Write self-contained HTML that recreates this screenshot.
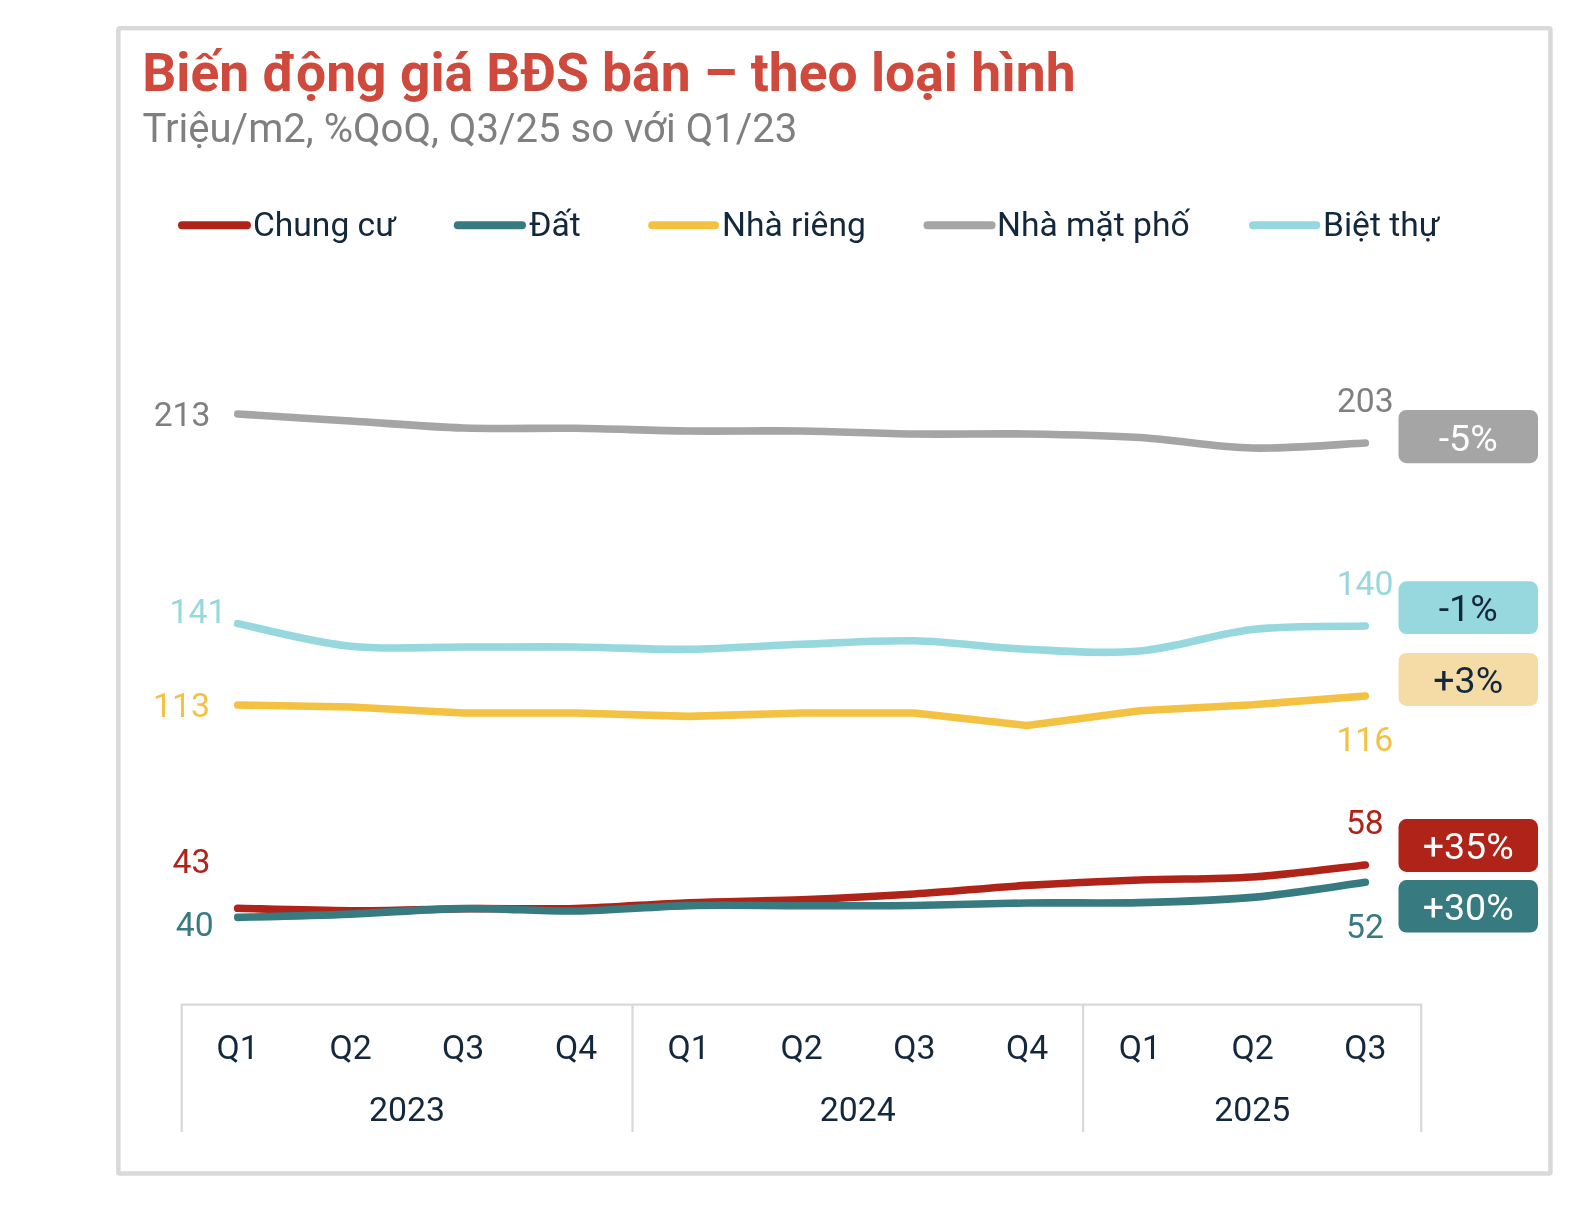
<!DOCTYPE html>
<html><head><meta charset="utf-8">
<style>
html,body{margin:0;padding:0;background:#fff;}
body{width:1596px;height:1214px;overflow:hidden;}
svg{display:block;will-change:transform;}
text{font-family:Roboto,"Liberation Sans",Arial,sans-serif;}
</style></head>
<body>
<svg width="1596" height="1214" viewBox="0 0 1596 1214">
<rect x="0" y="0" width="1596" height="1214" fill="#ffffff"/>
<rect x="116.1" y="25.9" width="1436.6" height="1149.8" rx="3.5" fill="#D9D9D9"/>
<rect x="120.6" y="30.4" width="1427.6" height="1140.8" fill="#ffffff"/>
<text x="142.2" y="90.8" font-size="53.4" font-weight="700" fill="#CF4A3C" textLength="933.36" lengthAdjust="spacingAndGlyphs">Biến động giá BĐS bán – theo loại hình</text>
<text x="142.5" y="141.7" font-size="40.1" fill="#7F7F7F" textLength="654.89" lengthAdjust="spacingAndGlyphs">Triệu/m2, %QoQ, Q3/25 so với Q1/23</text>
<g stroke-width="8" stroke-linecap="round">
<line x1="182" y1="225.2" x2="247" y2="225.2" stroke="#B02318"/>
<line x1="457.8" y1="225.2" x2="522" y2="225.2" stroke="#377A7F"/>
<line x1="652.2" y1="225.2" x2="715" y2="225.2" stroke="#F4C242"/>
<line x1="927.5" y1="225.2" x2="991.6" y2="225.2" stroke="#A5A5A5"/>
<line x1="1253" y1="225.2" x2="1316.3" y2="225.2" stroke="#96D8DE"/>
</g>
<g font-size="33.6" fill="#14283D">
<text x="253" y="236" textLength="142.94" lengthAdjust="spacingAndGlyphs">Chung cư</text>
<text x="529" y="236" textLength="51.78" lengthAdjust="spacingAndGlyphs">Đất</text>
<text x="722" y="236" textLength="143.80" lengthAdjust="spacingAndGlyphs">Nhà riêng</text>
<text x="997" y="236" textLength="192.58" lengthAdjust="spacingAndGlyphs">Nhà mặt phố</text>
<text x="1323" y="236" textLength="116.47" lengthAdjust="spacingAndGlyphs">Biệt thự</text>
</g>
<g fill="none" stroke-width="7.6" stroke-linecap="round" stroke-linejoin="round">
<path d="M237.7,908.3 C256.5,908.7 312.9,910.7 350.5,910.8 C388.0,910.9 425.6,909.1 463.2,908.7 C500.8,908.3 538.4,909.5 576.0,908.5 C613.6,907.5 651.2,904.2 688.7,902.7 C726.3,901.2 763.9,901.2 801.5,899.7 C839.1,898.2 876.7,896.4 914.3,894.0 C951.8,891.6 989.4,887.7 1027.0,885.4 C1064.6,883.1 1102.2,881.4 1139.8,880.0 C1177.4,878.6 1215.0,879.5 1252.5,877.0 C1290.1,874.5 1346.5,867.0 1365.3,865.0" stroke="#B02318"/>
<path d="M237.7,917.4 C256.5,916.9 312.9,915.6 350.5,914.1 C388.0,912.6 425.6,909.1 463.2,908.6 C500.8,908.1 538.4,911.5 576.0,911.0 C613.6,910.5 651.2,906.5 688.7,905.6 C726.3,904.7 763.9,905.7 801.5,905.7 C839.1,905.7 876.7,906.0 914.3,905.5 C951.8,905.0 989.4,903.5 1027.0,903.0 C1064.6,902.5 1102.2,903.5 1139.8,902.6 C1177.4,901.7 1215.0,900.8 1252.5,897.4 C1290.1,894.0 1346.5,884.8 1365.3,882.3" stroke="#377A7F"/>
<path d="M237.7,705.0 L350.5,707.0 L463.2,713.0 L576.0,713.0 L688.7,716.4 L801.5,713.0 L914.3,713.0 L1027.0,725.5 L1139.8,710.7 L1252.5,704.7 L1365.3,696.0" stroke="#F4C242"/>
<path d="M237.7,414.0 C256.5,415.2 312.9,418.7 350.5,421.0 C388.0,423.3 425.6,426.8 463.2,428.0 C500.8,429.2 538.4,427.8 576.0,428.3 C613.6,428.8 651.2,430.6 688.7,431.0 C726.3,431.4 763.9,430.5 801.5,431.0 C839.1,431.5 876.7,433.5 914.3,434.0 C951.8,434.5 989.4,433.4 1027.0,434.0 C1064.6,434.6 1102.2,435.2 1139.8,437.5 C1177.4,439.8 1215.0,447.1 1252.5,448.0 C1290.1,448.9 1346.5,443.8 1365.3,443.0" stroke="#A5A5A5"/>
<path d="M237.7,623.6 C256.5,627.4 312.9,642.4 350.5,646.3 C388.0,650.2 425.6,646.9 463.2,647.0 C500.8,647.1 538.4,646.6 576.0,647.0 C613.6,647.4 651.2,649.8 688.7,649.3 C726.3,648.8 763.9,645.7 801.5,644.3 C839.1,642.9 876.7,640.0 914.3,640.8 C951.8,641.6 989.4,647.6 1027.0,649.3 C1064.6,651.0 1102.2,654.3 1139.8,651.0 C1177.4,647.7 1215.0,633.7 1252.5,629.5 C1290.1,625.3 1346.5,626.6 1365.3,626.0" stroke="#96D8DE"/>
</g>
<g font-size="33.7">
<text x="210.5" y="426" text-anchor="end" fill="#7F7F7F" textLength="56.81" lengthAdjust="spacingAndGlyphs">213</text>
<text x="226.4" y="623.1" text-anchor="end" fill="#96D8DE" textLength="56.81" lengthAdjust="spacingAndGlyphs">141</text>
<text x="209.9" y="717.2" text-anchor="end" fill="#F4C242" textLength="56.81" lengthAdjust="spacingAndGlyphs">113</text>
<text x="210.4" y="872.9" text-anchor="end" fill="#B02318" textLength="37.88" lengthAdjust="spacingAndGlyphs">43</text>
<text x="213.6" y="936" text-anchor="end" fill="#377A7F" textLength="37.88" lengthAdjust="spacingAndGlyphs">40</text>
<text x="1393.7" y="411.8" text-anchor="end" fill="#7F7F7F" textLength="56.81" lengthAdjust="spacingAndGlyphs">203</text>
<text x="1393.5" y="595.1" text-anchor="end" fill="#96D8DE" textLength="56.81" lengthAdjust="spacingAndGlyphs">140</text>
<text x="1393.2" y="751.3" text-anchor="end" fill="#F4C242" textLength="56.81" lengthAdjust="spacingAndGlyphs">116</text>
<text x="1383.8" y="834.3" text-anchor="end" fill="#B02318" textLength="37.88" lengthAdjust="spacingAndGlyphs">58</text>
<text x="1384" y="938" text-anchor="end" fill="#377A7F" textLength="37.88" lengthAdjust="spacingAndGlyphs">52</text>
</g>
<g>
<rect x="1398.5" y="410" width="139.5" height="53.2" rx="8" fill="#A5A5A5"/>
<rect x="1398.5" y="581.3" width="139.5" height="52.7" rx="8" fill="#96D8DE"/>
<rect x="1398.5" y="653" width="139.5" height="52.9" rx="8" fill="#F5DBA6"/>
<rect x="1398.5" y="819.1" width="139.5" height="52.8" rx="8" fill="#B02318"/>
<rect x="1398.5" y="880.1" width="139.5" height="52.5" rx="8" fill="#377A7F"/>
</g>
<g font-size="37.5" text-anchor="middle">
<text x="1468.2" y="450.6" fill="#FFFFFF" textLength="58.91" lengthAdjust="spacingAndGlyphs">-5%</text>
<text x="1468.2" y="620.8" fill="#14283D" textLength="58.91" lengthAdjust="spacingAndGlyphs">-1%</text>
<text x="1468.2" y="693.2" fill="#14283D" textLength="69.83" lengthAdjust="spacingAndGlyphs">+3%</text>
<text x="1468.2" y="859.3" fill="#FFFFFF" textLength="90.91" lengthAdjust="spacingAndGlyphs">+35%</text>
<text x="1468.2" y="920.3" fill="#FFFFFF" textLength="90.91" lengthAdjust="spacingAndGlyphs">+30%</text>
</g>
<g stroke="#D9D9D9" stroke-width="2.3" fill="none">
<path d="M181.7,1132 V1004.6 H1421.2 V1132"/>
<path d="M632.5,1004.6 V1132 M1083.1,1004.6 V1132"/>
</g>
<g font-size="33.8" fill="#14283D">
<text x="237.7" y="1058.5" text-anchor="middle" textLength="42.25" lengthAdjust="spacingAndGlyphs">Q1</text>
<text x="350.5" y="1058.5" text-anchor="middle" textLength="42.25" lengthAdjust="spacingAndGlyphs">Q2</text>
<text x="463.2" y="1058.5" text-anchor="middle" textLength="42.25" lengthAdjust="spacingAndGlyphs">Q3</text>
<text x="576.0" y="1058.5" text-anchor="middle" textLength="42.25" lengthAdjust="spacingAndGlyphs">Q4</text>
<text x="688.7" y="1058.5" text-anchor="middle" textLength="42.25" lengthAdjust="spacingAndGlyphs">Q1</text>
<text x="801.5" y="1058.5" text-anchor="middle" textLength="42.25" lengthAdjust="spacingAndGlyphs">Q2</text>
<text x="914.3" y="1058.5" text-anchor="middle" textLength="42.25" lengthAdjust="spacingAndGlyphs">Q3</text>
<text x="1027.0" y="1058.5" text-anchor="middle" textLength="42.25" lengthAdjust="spacingAndGlyphs">Q4</text>
<text x="1139.8" y="1058.5" text-anchor="middle" textLength="42.25" lengthAdjust="spacingAndGlyphs">Q1</text>
<text x="1252.5" y="1058.5" text-anchor="middle" textLength="42.25" lengthAdjust="spacingAndGlyphs">Q2</text>
<text x="1365.3" y="1058.5" text-anchor="middle" textLength="42.25" lengthAdjust="spacingAndGlyphs">Q3</text>
<text x="407" y="1120.8" text-anchor="middle" textLength="75.98" lengthAdjust="spacingAndGlyphs">2023</text>
<text x="857.7" y="1120.8" text-anchor="middle" textLength="75.98" lengthAdjust="spacingAndGlyphs">2024</text>
<text x="1252.2" y="1120.8" text-anchor="middle" textLength="75.98" lengthAdjust="spacingAndGlyphs">2025</text>
</g>
</svg>
</body></html>
